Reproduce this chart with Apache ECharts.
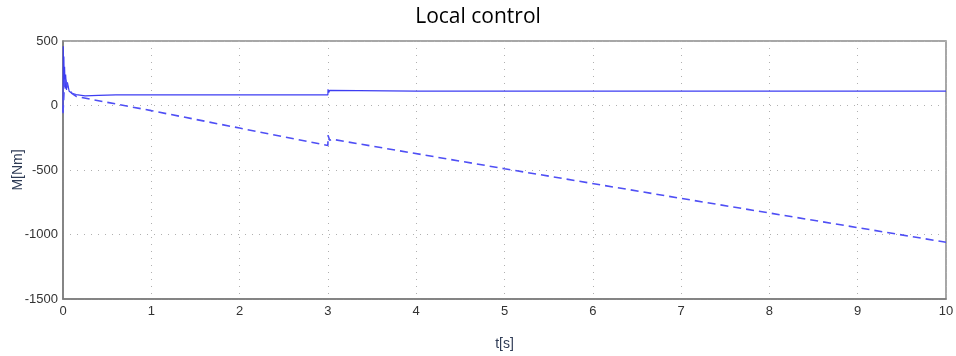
<!DOCTYPE html>
<html><head><meta charset="utf-8">
<script src="https://cdn.jsdelivr.net/npm/echarts@6/dist/echarts.min.js"></script>
<style>html,body{margin:0;padding:0;background:#fff}#c{width:956px;height:356px}</style>
</head><body><div id="c"></div>
<script>
const titleText = 'Local control';
const xName = 't[s]';
const yName = 'M[Nm]';
// solid series: [t, M]
const solidT = [0, 0.003, 0.006, 0.01, 0.014, 0.018, 0.024, 0.03, 0.04, 0.05, 0.07, 0.1, 0.15, 0.25, 0.4, 0.6, 1, 2, 3, 3.001, 3.01, 3.02, 3.04, 4, 6, 8, 10];
const solidM = [-50, 460, 180, 380, 150, 300, 130, 240, 120, 180, 110, 95, 85, 75, 78, 82, 82, 82, 82, 125, 100, 118, 112, 112, 112, 112, 112];
// dashed series
const dashT = [0, 0.02, 0.05, 0.1, 0.15, 1, 2, 3, 3.001, 3.02, 3.05, 5, 7, 10];
const dashM = [-60, 220, 150, 95, 70, -40, -175, -310, -230, -270, -262, -490, -720, -1060];

const solid = solidT.map((t, i) => [t, solidM[i]]);
const dashed = dashT.map((t, i) => [t, dashM[i]]);

const chart = echarts.init(document.getElementById('c'));
chart.setOption({
  animation: false,
  title: { text: titleText, left: 'center', top: 2,
    textStyle: { fontFamily: 'Open Sans', fontWeight: 'normal', fontSize: 21, color: '#000' } },
  grid: { left: 63, right: 10, top: 41, bottom: 57, show: true, borderColor: '#8a8a8a', borderWidth: 1.5,
    containLabel: false, outerBoundsMode: 'none' },
  xAxis: {
    type: 'value', min: 0, max: 10, interval: 1,
    name: xName, nameLocation: 'middle', nameGap: 38, nameMoveOverlap: false,
    nameTextStyle: { fontFamily: 'Liberation Sans', fontSize: 14, color: '#2e3b55' },
    axisLine: { show: true, onZero: false, lineStyle: { color: '#7a7a7a', width: 1.5 } },
    axisTick: { show: false },
    axisLabel: { fontFamily: 'Liberation Sans', fontSize: 13, color: '#333', margin: 6 },
    splitLine: { show: true, lineStyle: { type: [1, 6], color: '#b0b0b0', width: 1 } }
  },
  yAxis: {
    type: 'value', min: -1500, max: 500, interval: 500,
    name: yName, nameLocation: 'middle', nameGap: 38, nameMoveOverlap: false,
    nameTextStyle: { fontFamily: 'Liberation Sans', fontSize: 14, color: '#2e3b55' },
    axisLine: { show: true, onZero: false, lineStyle: { color: '#7a7a7a', width: 1.5 } },
    axisTick: { show: false },
    axisLabel: { fontFamily: 'Liberation Sans', fontSize: 13, color: '#333', margin: 5, formatter: v => String(v) },
    splitLine: { show: true, lineStyle: { type: [1, 6], color: '#b0b0b0', width: 1 } }
  },
  series: [
    { type: 'line', data: solid, symbol: 'none', lineStyle: { color: '#3d3df2', width: 1.2 } },
    { type: 'line', data: dashed, symbol: 'none', lineStyle: { color: '#4f4ff5', width: 1.6, type: [8, 5] } }
  ]
});
</script></body></html>
